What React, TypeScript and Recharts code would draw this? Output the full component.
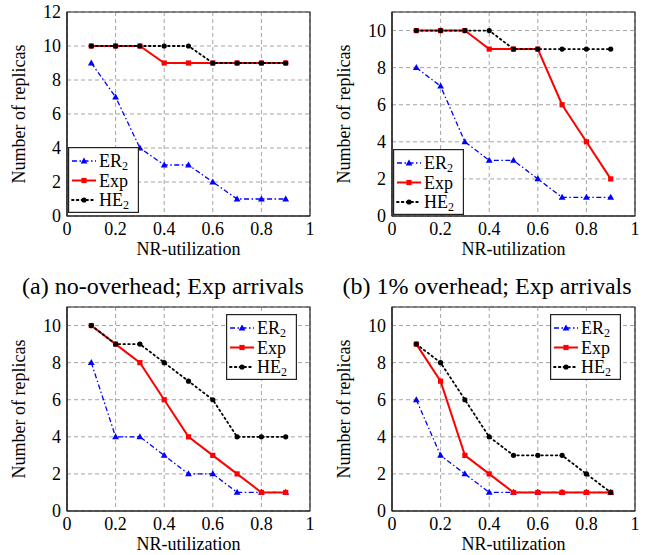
import React from 'react';
import { LineChart, Line, XAxis, YAxis, CartesianGrid, ReferenceArea, Label } from 'recharts';

const utilization = [0.1, 0.2, 0.3, 0.4, 0.5, 0.6, 0.7, 0.8, 0.9];
const xTicks = [0, 0.2, 0.4, 0.6, 0.8, 1];
const yTicksA = [0, 2, 4, 6, 8, 10, 12];
const yTicksB = [0, 2, 4, 6, 8, 10];

// (a) no-overhead; Exp arrivals
const erA = [9, 7, 4, 3, 3, 2, 1, 1, 1];
const expA = [10, 10, 10, 9, 9, 9, 9, 9, 9];
const heA = [10, 10, 10, 10, 10, 9, 9, 9, 9];
// (b) 1% overhead; Exp arrivals
const erB = [8, 7, 4, 3, 3, 2, 1, 1, 1];
const expB = [10, 10, 10, 9, 9, 9, 6, 4, 2];
const heB = [10, 10, 10, 10, 9, 9, 9, 9, 9];
// bottom-left
const erC = [8, 4, 4, 3, 2, 2, 1, 1, 1];
const expC = [10, 9, 8, 6, 4, 3, 2, 1, 1];
const heC = [10, 9, 9, 8, 7, 6, 4, 4, 4];
// bottom-right
const erD = [6, 3, 2, 1, 1, 1, 1, 1, 1];
const expD = [9, 7, 3, 2, 1, 1, 1, 1, 1];
const heD = [9, 8, 6, 4, 3, 3, 3, 2, 1];

const captions = ['(a) no-overhead; Exp arrivals', '(b) 1% overhead; Exp arrivals'];

const FONT = '"Liberation Serif", monospace';
const BLUE = '#0000ff';
const RED = '#ff0000';
const BLACK = '#000000';
const ER_DASH = '5 2.5 1.5 2.5';
const HE_DASH = '1.6 3.2';

const build = (er: number[], exp: number[], he: number[]) =>
  utilization.map((x, i) => ({ x, er: er[i], exp: exp[i], he: he[i] }));

const triDot = (p: any) => {
  const { cx, cy } = p;
  if (cx == null || cy == null) return <g key={p.key ?? `t${p.index}`} />;
  return (
    <path
      key={p.key ?? `t${p.index}`}
      d={`M${cx},${cy - 3.6} L${cx + 3.4},${cy + 2.4} L${cx - 3.4},${cy + 2.4} Z`}
      fill={BLUE}
    />
  );
};
const sqDot = (p: any) => {
  const { cx, cy } = p;
  if (cx == null || cy == null) return <g key={p.key ?? `s${p.index}`} />;
  return <rect key={p.key ?? `s${p.index}`} x={cx - 2.6} y={cy - 2.6} width={5.2} height={5.2} fill={RED} />;
};
const cirDot = (p: any) => {
  const { cx, cy } = p;
  if (cx == null || cy == null) return <g key={p.key ?? `c${p.index}`} />;
  return <circle key={p.key ?? `c${p.index}`} cx={cx} cy={cy} r={2.6} fill={BLACK} />;
};

const YLabel = (props: any) => {
  const vb = props.viewBox || {};
  const cx = 25;
  const cy = (vb.y ?? 0) + (vb.height ?? 0) / 2;
  return (
    <text x={cx} y={cy} transform={`rotate(-90, ${cx}, ${cy})`} textAnchor="middle" style={{ fontFamily: FONT, fontSize: '18px' }} fill="#000">
      Number of replicas
    </text>
  );
};

const xFmt = (v: number) => (v === 0 || v === 1 ? String(v) : v.toFixed(1));

function LegendBox({ left, top }: { left: number; top: number }) {
  const rows = [
    { name: 'ER', sub: '2', color: BLUE, dash: ER_DASH, w: 1.3, kind: 'tri' },
    { name: 'Exp', sub: '', color: RED, dash: undefined, w: 2, kind: 'sq' },
    { name: 'HE', sub: '2', color: BLACK, dash: HE_DASH, w: 1.8, kind: 'cir' },
  ];
  const W = 71;
  const H = 66;
  return (
    <svg style={{ position: 'absolute', left, top }} width={W} height={H}>
      <rect x={0.6} y={0.6} width={W - 1.2} height={H - 1.2} fill="#fff" stroke="#222" strokeWidth={1.2} />
      {rows.map((r, i) => {
        const y = 14 + i * 19.5;
        const mx = 16;
        return (
          <g key={r.name}>
            <line x1={4} x2={28} y1={y} y2={y} stroke={r.color} strokeWidth={r.w} strokeDasharray={r.dash} strokeLinecap={r.kind === 'cir' ? 'round' : 'butt'} />
            {r.kind === 'tri' && <path d={`M${mx},${y - 3.6} L${mx + 3.4},${y + 2.4} L${mx - 3.4},${y + 2.4} Z`} fill={BLUE} />}
            {r.kind === 'sq' && <rect x={mx - 2.6} y={y - 2.6} width={5.2} height={5.2} fill={RED} />}
            {r.kind === 'cir' && <circle cx={mx} cy={y} r={2.6} fill={BLACK} />}
            <text x={31} y={y + 6} style={{ fontFamily: FONT, fontSize: '18px' }} fill="#000">
              {r.name}
              {r.sub && (
                <tspan style={{ fontSize: '12px' }} dy={3}>
                  {r.sub}
                </tspan>
              )}
            </text>
          </g>
        );
      })}
    </svg>
  );
}

function Panel({
  left,
  top,
  er,
  exp,
  he,
  yMax,
  yTicks,
  legend,
}: {
  left: number;
  top: number;
  er: number[];
  exp: number[];
  he: number[];
  yMax: number;
  yTicks: number[];
  legend: { left: number; top: number };
}) {
  const data = build(er, exp, he);
  const tickStyle = { fontSize: 18, fill: '#000', style: { fontFamily: FONT, fontSize: '18px' } };
  return (
    <div style={{ position: 'absolute', left, top, width: 326, height: 260, fontFamily: FONT }}>
      <LineChart width={326} height={260} data={data} margin={{ top: 12, right: 16, left: 0, bottom: 0 }} style={{ fontFamily: FONT }}>
        <CartesianGrid stroke="#9a9a9a" strokeDasharray="4 3" strokeWidth={0.9} />
        <XAxis
          dataKey="x"
          type="number"
          domain={[0, 1]}
          ticks={xTicks}
          tickFormatter={xFmt}
          tick={tickStyle}
          tickLine={false}
          tickSize={6}
          tickMargin={0}
          axisLine={{ stroke: '#222', strokeWidth: 1.2 }}
          height={44}
          allowDataOverflow
        >
          <Label value="NR-utilization" position="insideBottom" offset={5} style={{ fontFamily: FONT, fontSize: '18px', fill: '#000' }} />
        </XAxis>
        <YAxis
          type="number"
          domain={[0, yMax]}
          ticks={yTicks}
          tick={tickStyle}
          tickLine={false}
          tickSize={6}
          tickMargin={0}
          axisLine={{ stroke: '#222', strokeWidth: 1.2 }}
          width={67}
          allowDataOverflow
        >
          <Label content={YLabel} />
        </YAxis>
        <Line dataKey="er" stroke={BLUE} strokeWidth={1.3} strokeDasharray={ER_DASH} dot={triDot} isAnimationActive={false} />
        <Line dataKey="exp" stroke={RED} strokeWidth={2} dot={sqDot} isAnimationActive={false} />
        <Line dataKey="he" stroke={BLACK} strokeWidth={1.8} strokeDasharray={HE_DASH} strokeLinecap="round" dot={cirDot} isAnimationActive={false} />
        <ReferenceArea x1={0} x2={1} y1={0} y2={yMax} fill="none" stroke="#222" strokeWidth={1.2} ifOverflow="visible" />
      </LineChart>
      <LegendBox left={legend.left} top={legend.top} />
    </div>
  );
}

export default function App() {
  const capStyle: React.CSSProperties = {
    position: 'absolute',
    top: 274,
    width: 326,
    textAlign: 'center',
    fontFamily: FONT,
    fontSize: '24px',
    lineHeight: '24px',
    whiteSpace: 'nowrap',
  };
  return (
    <div style={{ position: 'absolute', left: 0, top: 0, width: 652, height: 555, background: '#fff', overflow: 'hidden', fontFamily: FONT }}>
      <div style={{ ...capStyle, left: 0 }}>{captions[0]}</div>
      <div style={{ ...capStyle, left: 324 }}>{captions[1]}</div>
      <Panel left={0} top={0} er={erA} exp={expA} he={heA} yMax={12} yTicks={yTicksA} legend={{ left: 68, top: 147 }} />
      <Panel left={325} top={0} er={erB} exp={expB} he={heB} yMax={11} yTicks={yTicksB} legend={{ left: 68, top: 149 }} />
      <Panel left={0} top={295} er={erC} exp={expC} he={heC} yMax={11} yTicks={yTicksB} legend={{ left: 226, top: 19 }} />
      <Panel left={325} top={295} er={erD} exp={expD} he={heD} yMax={11} yTicks={yTicksB} legend={{ left: 225, top: 19 }} />
    </div>
  );
}
